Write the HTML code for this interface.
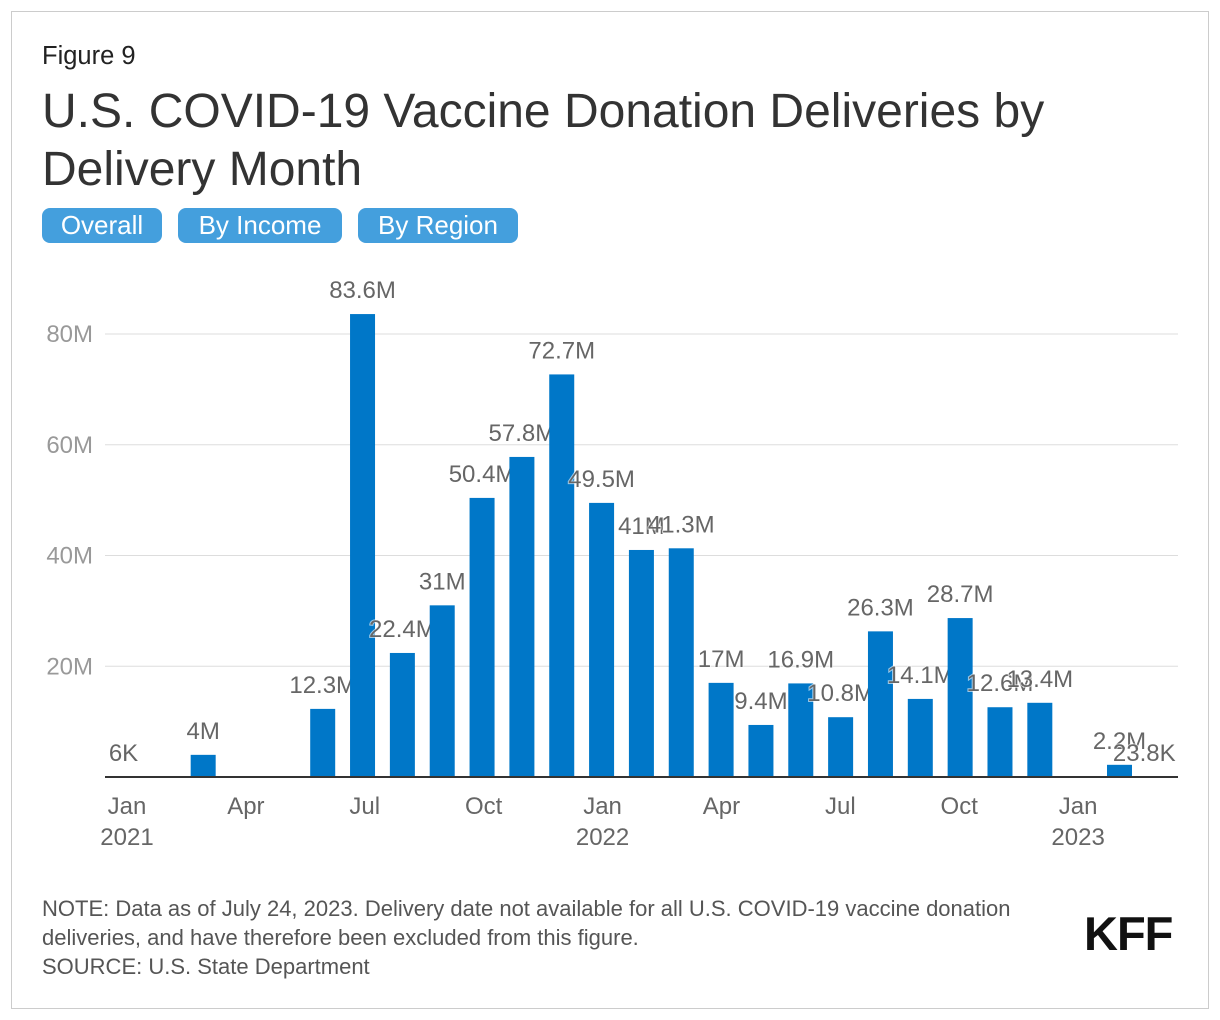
<!DOCTYPE html>
<html><head><meta charset="utf-8"><style>
body{margin:0;width:1220px;height:1020px;background:#fff;font-family:"Liberation Sans",sans-serif;position:relative;overflow:hidden}
.frame{position:absolute;left:11px;top:11px;width:1198px;height:998px;border:1px solid #ccc;box-sizing:border-box}
.t{position:absolute;white-space:nowrap}
.btn{position:absolute;top:208px;height:35px;background:#449fdd;color:#fff;border-radius:8px;font-size:26px;line-height:35px;text-align:center}
</style></head><body>
<div class="frame"></div>
<div class="t" style="left:42px;top:42px;font-size:25.5px;color:#222">Figure 9</div>
<div class="t" style="left:42px;top:83px;font-size:48px;line-height:58px;color:#333">U.S. COVID-19 Vaccine Donation Deliveries by<br>Delivery Month</div>
<div class="btn" style="left:42px;width:120px">Overall</div>
<div class="btn" style="left:178px;width:164px">By Income</div>
<div class="btn" style="left:358px;width:160px">By Region</div>
<svg id="chart" width="1220" height="1020" style="position:absolute;left:0;top:0"></svg>
<div class="t" style="left:42px;top:894px;font-size:22px;line-height:29px;color:#555">NOTE: Data as of July 24, 2023. Delivery date not available for all U.S. COVID-19 vaccine donation<br>deliveries, and have therefore been excluded from this figure.<br>SOURCE: U.S. State Department</div>
<div class="t" style="left:1084px;top:906px;font-size:47px;font-weight:bold;color:#111;letter-spacing:-1px">KFF</div>
<script>
const monthIndex=[0,2,5,6,7,8,9,10,11,12,13,14,15,16,17,18,19,20,21,22,23,25,26];
const values=[0.006,4,12.3,83.6,22.4,31,50.4,57.8,72.7,49.5,41,41.3,17,9.4,16.9,10.8,26.3,14.1,28.7,12.6,13.4,2.2,0.0238];
const labels=["6K","4M","12.3M","83.6M","22.4M","31M","50.4M","57.8M","72.7M","49.5M","41M","41.3M","17M","9.4M","16.9M","10.8M","26.3M","14.1M","28.7M","12.6M","13.4M","2.2M","23.8K"];
const yTicks=[20,40,60,80];
const xTickMonths=[0,3,6,9,12,15,18,21,24];
const xTickLabels=["Jan\n2021","Apr","Jul","Oct","Jan\n2022","Apr","Jul","Oct","Jan\n2023"];
const NS="http://www.w3.org/2000/svg";
const svg=document.getElementById('chart');
const x=m=>123.5+m*39.84;
const xt=m=>127+m*39.63;
const y=v=>777-v*5.5375;
function mk(tag,a){const e=document.createElementNS(NS,tag);for(const k in a)e.setAttribute(k,a[k]);svg.appendChild(e);return e;}
yTicks.forEach(v=>{
 const g=mk('line',{x1:105,x2:1178,y1:y(v),y2:y(v),stroke:'#ddd','stroke-width':1});
 
 
 const t=mk('text',{x:93,y:y(v)+8,'text-anchor':'end','font-size':24,fill:'#999','font-family':'Liberation Sans'});
 t.textContent=v+'M';
 
 
});
values.forEach((v,i)=>{
 const cx=x(monthIndex[i]);
 const r=mk('rect',{x:cx-12.5,y:y(v),width:25,height:777-y(v),fill:'#0077c8'});
 
 
 let lx=cx;const w=labels[i].length*13.5;
 if(lx+w/2>1178)lx=1178-w/2;
 const t=mk('text',{x:lx,y:y(v)-16,'text-anchor':'middle','font-size':24,fill:'#666','font-family':'Liberation Sans',stroke:'#fff','stroke-width':2,'stroke-opacity':0.6,'paint-order':'stroke'});
 t.textContent=labels[i];
 
 
});
const ax=mk('line',{x1:105,x2:1178,y1:777,y2:777,stroke:'#333','stroke-width':2});


xTickMonths.forEach((m,i)=>{
 const parts=xTickLabels[i].split('\n');
 parts.forEach((p,j)=>{
  const t=mk('text',{x:xt(m),y:814+j*31,'text-anchor':'middle','font-size':24,fill:'#666','font-family':'Liberation Sans'});
  t.textContent=p;
  
  
 });
});
</script>
</body></html>
